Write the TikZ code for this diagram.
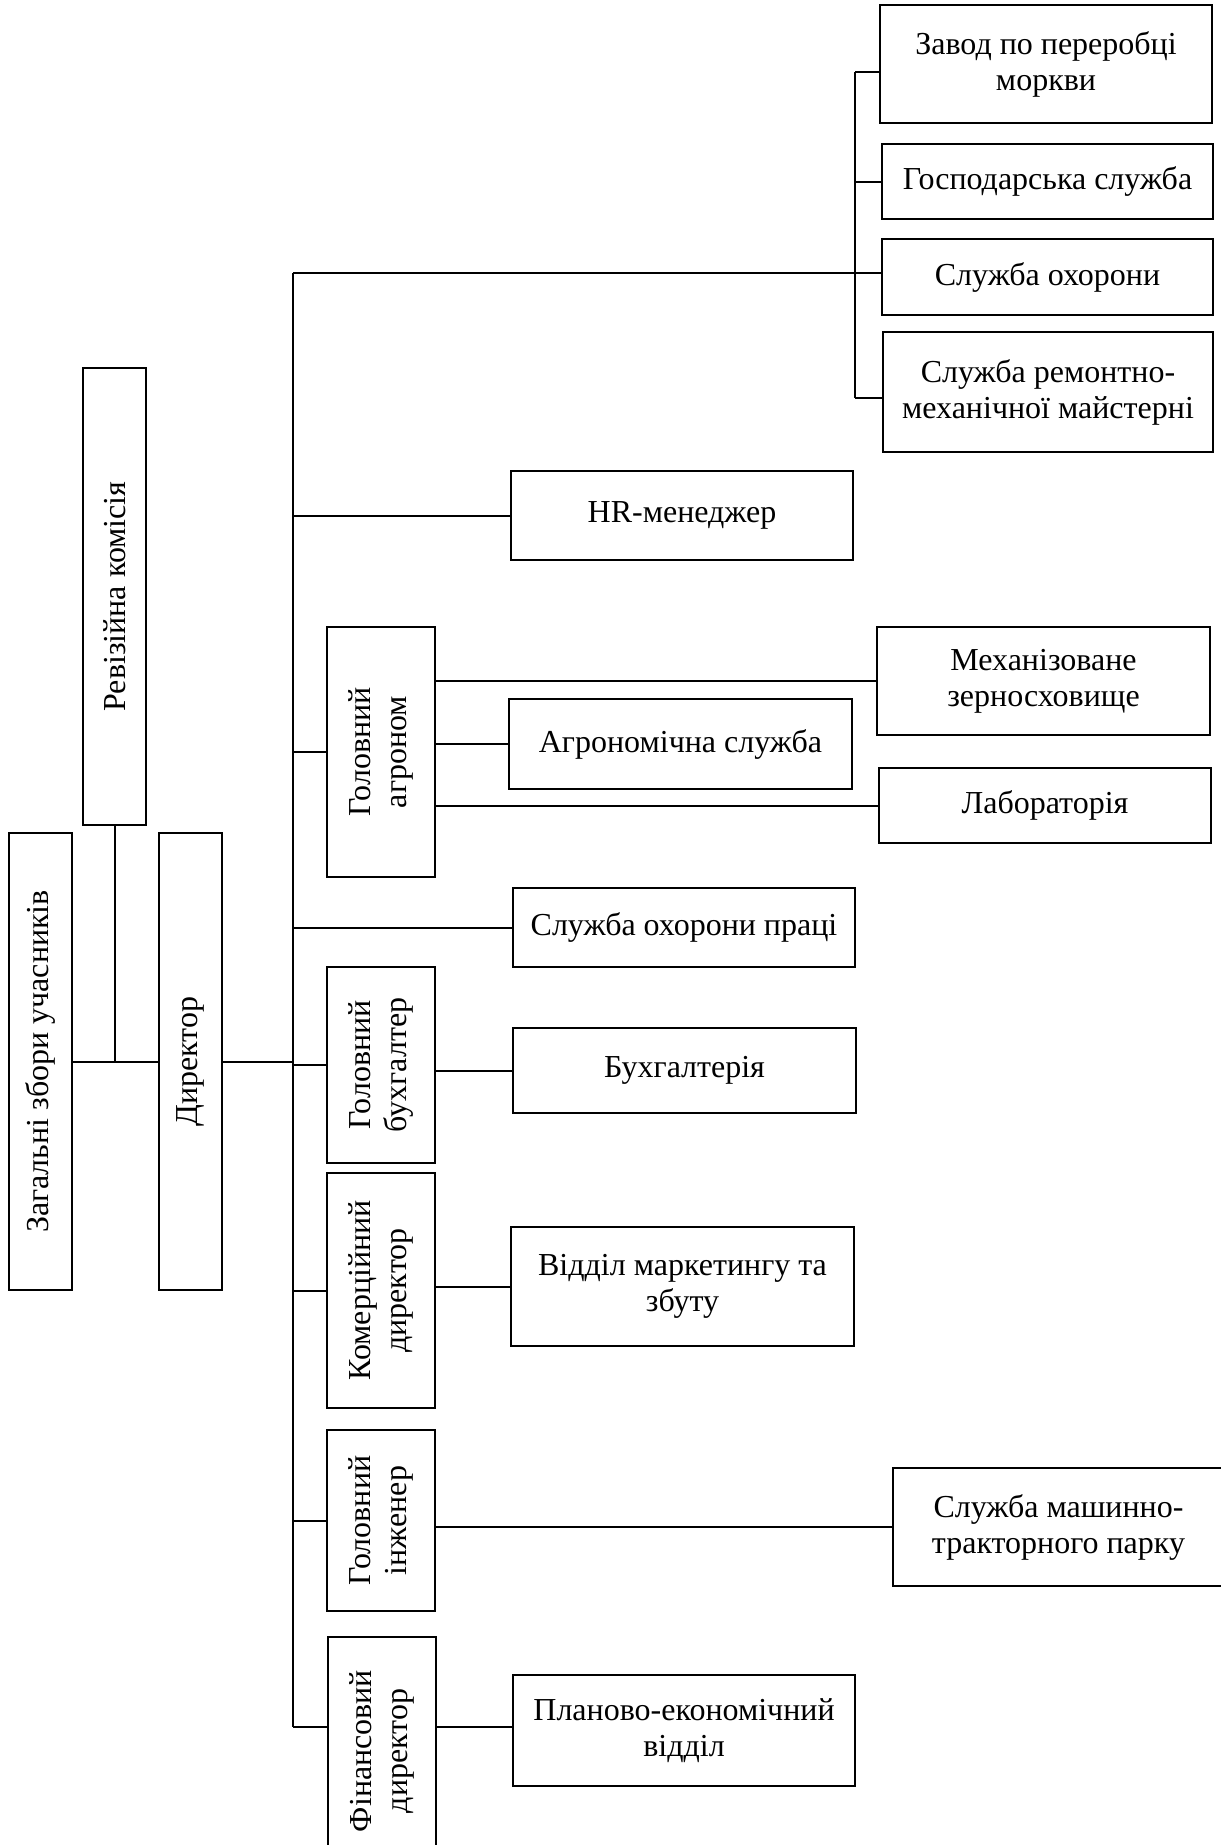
\documentclass[tikz,border=0pt]{standalone}
\usepackage{fontspec}
\setmainfont{Liberation Serif}
\tikzset{
  orgbox/.style={draw, inner sep=2pt, align=center, font=\fontsize{32}{36}\selectfont},
  orgvbox/.style={orgbox, rotate=90},
}

\begin{document}
\begin{tikzpicture}[x=1pt,y=-1pt,line width=2pt]
\clip (0,0) rectangle (1221,1845);
% top level
\node[orgvbox, minimum width=457pt, minimum height=63pt] (zag) at (40.5,1061.5) {Загальні збори учасників};
\node[orgvbox, minimum width=457pt, minimum height=63pt] (rev) at (114.5,596.5) {Ревізійна комісія};
\node[orgvbox, minimum width=457pt, minimum height=63pt] (dir) at (190.5,1061.5) {Директор};
% deputies
\node[orgvbox, minimum width=250pt, minimum height=108pt] (agro) at (381,752) {Головний\\агроном};
\node[orgvbox, minimum width=196pt, minimum height=108pt] (buhg) at (381,1065) {Головний\\бухгалтер};
\node[orgvbox, minimum width=235pt, minimum height=108pt] (kom) at (381,1290.5) {Комерційний\\директор};
\node[orgvbox, minimum width=181pt, minimum height=108pt] (ing) at (381,1520.5) {Головний\\інженер};
\node[orgvbox, minimum width=228pt, minimum height=108pt] (fin) at (381.5,1751) {Фінансовий\\директор};
% services
\node[orgbox, minimum width=332pt, minimum height=118pt] (zavod) at (1046,64) {Завод по переробці\\моркви};
\node[orgbox, minimum width=331pt, minimum height=75pt] (gosp) at (1047.5,181.5) {Господарська служба};
\node[orgbox, minimum width=331pt, minimum height=76pt] (ohor) at (1047.5,277) {Служба охорони};
\node[orgbox, minimum width=330pt, minimum height=120pt] (remont) at (1048,392) {Служба ремонтно-\\механічної майстерні};
\node[orgbox, minimum width=342pt, minimum height=89pt] (hr) at (682,515.5) {HR-менеджер};
\node[orgbox, minimum width=333pt, minimum height=108pt] (mech) at (1043.5,681) {Механізоване\\зерносховище};
\node[orgbox, minimum width=343pt, minimum height=90pt] (agserv) at (680.5,744) {Агрономічна служба};
\node[orgbox, minimum width=332pt, minimum height=75pt] (lab) at (1045,805.5) {Лабораторія};
\node[orgbox, minimum width=342pt, minimum height=79pt] (ohpr) at (684,927.5) {Служба охорони праці};
\node[orgbox, minimum width=343pt, minimum height=85pt] (buh) at (684.5,1070.5) {Бухгалтерія};
\node[orgbox, minimum width=343pt, minimum height=119pt] (mark) at (682.5,1286.5) {Відділ маркетингу та\\збуту};
\node[orgbox, minimum width=331pt, minimum height=118pt] (mtp) at (1058.5,1527) {Служба машинно-\\тракторного парку};
\node[orgbox, minimum width=342pt, minimum height=111pt] (plan) at (684,1730.5) {Планово-економічний\\відділ};
% buses
\coordinate (bustop) at (293,273);
\coordinate (busend) at (293,1727);
\coordinate (subtop) at (855,72);
\coordinate (subend) at (855,398);
\coordinate (revj) at (rev |- zag);
% lines
\draw (zag) -- (dir);
\draw (rev) -- (revj);
\draw (dir) -- (dir -| bustop);
\draw (bustop) -- (busend);
\draw (bustop) -- (bustop -| ohor.west);
\draw (subtop) -- (subend);
\draw (subtop) -- (subtop -| zavod.west);
\draw (gosp -| subtop) -- (gosp.west);
\draw (subend) -- (subend -| remont.west);
\draw (hr -| bustop) -- (hr);
\draw (agro -| bustop) -- (agro);
\draw (ohpr -| bustop) -- (ohpr);
\draw (buhg -| bustop) -- (buhg);
\draw (kom -| bustop) -- (kom);
\draw (ing -| bustop) -- (ing);
\draw (busend) -- (busend -| fin.north);
\draw (mech -| agro.south) -- (mech.west);
\draw (agserv -| agro.south) -- (agserv.west);
\draw (lab -| agro.south) -- (lab.west);
\draw (buh -| buhg.south) -- (buh.west);
\draw (mark -| kom.south) -- (mark.west);
\draw (mtp -| ing.south) -- (mtp.west);
\draw (busend -| fin.south) -- (busend -| plan.west);
\end{tikzpicture}
\end{document}
